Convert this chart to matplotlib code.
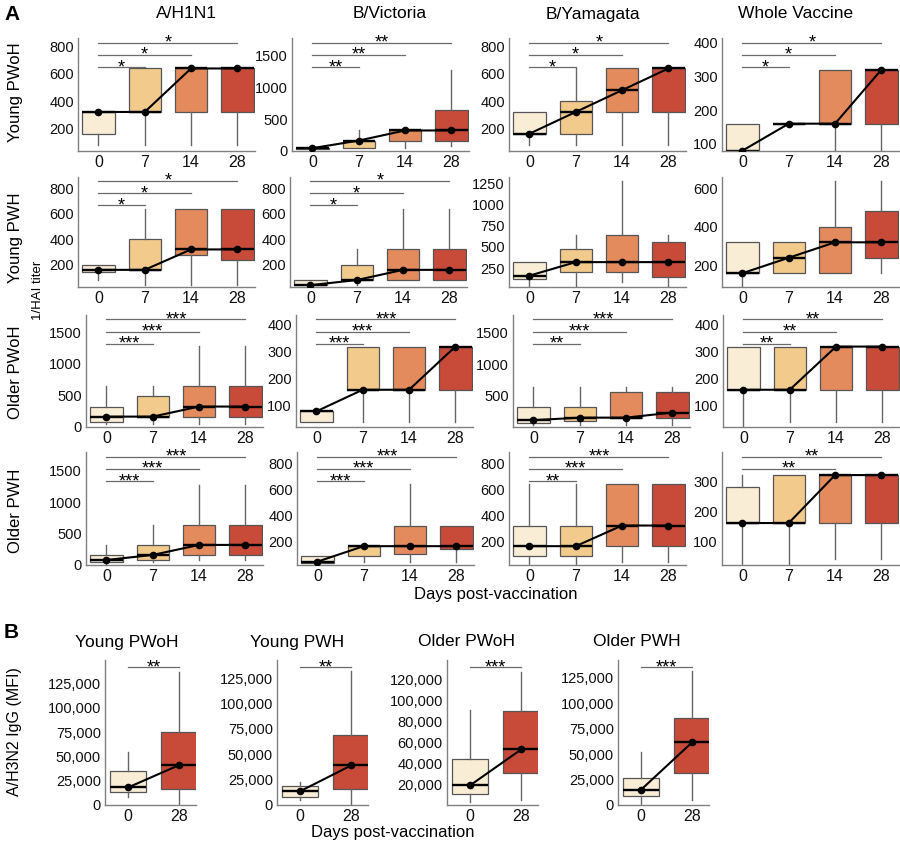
import matplotlib.pyplot as plt
from matplotlib.ticker import FuncFormatter
import numpy as np

plt.rcParams['font.family'] = ['Liberation Sans', 'DejaVu Sans']

days = ['0', '7', '14', '28']
day_colors = ['#FAEDD6', '#F2CA8C', '#E38B5C', '#C84A39']
strains = ['A/H1N1', 'B/Victoria', 'B/Yamagata', 'Whole Vaccine']
groups = ['Young PWoH', 'Young PWH', 'Older PWoH', 'Older PWH']

# box stats per day: [low whisker, q1, median, q3, high whisker]
h1n1_young_pwoh = [[80, 160, 320, 320, 320], [80, 320, 320, 640, 640], [80, 320, 640, 640, 640], [80, 320, 640, 640, 640]]
vic_young_pwoh = [[10, 20, 40, 50, 60], [40, 40, 160, 160, 320], [40, 160, 320, 320, 320], [80, 160, 320, 640, 1280]]
yam_young_pwoh = [[80, 160, 160, 320, 320], [80, 160, 320, 400, 640], [80, 320, 480, 640, 640], [80, 320, 640, 640, 640]]
whole_young_pwoh = [[80, 80, 80, 160, 160], [160, 160, 160, 160, 160], [80, 160, 160, 320, 320], [80, 160, 320, 320, 320]]

h1n1_young_pwh = [[80, 140, 160, 200, 200], [40, 160, 160, 400, 640], [40, 280, 320, 640, 640], [40, 240, 320, 640, 640]]
vic_young_pwh = [[40, 40, 40, 80, 80], [40, 80, 80, 200, 320], [80, 80, 160, 320, 640], [80, 80, 160, 320, 640]]
yam_young_pwh = [[40, 120, 160, 320, 320], [40, 200, 320, 480, 640], [80, 200, 320, 640, 1280], [40, 140, 320, 560, 640]]
whole_young_pwh = [[80, 160, 160, 320, 320], [160, 160, 240, 320, 320], [160, 160, 320, 400, 640], [160, 240, 320, 480, 640]]

h1n1_older_pwoh = [[40, 80, 160, 320, 640], [40, 160, 160, 480, 640], [40, 160, 320, 640, 1280], [40, 160, 320, 640, 1280]]
vic_older_pwoh = [[40, 40, 80, 80, 80], [40, 160, 160, 320, 320], [40, 160, 160, 320, 320], [40, 160, 320, 320, 320]]
yam_older_pwoh = [[40, 80, 120, 320, 640], [40, 100, 160, 320, 640], [40, 160, 160, 560, 640], [40, 160, 240, 560, 640]]
whole_older_pwoh = [[20, 160, 160, 320, 320], [40, 160, 160, 320, 320], [40, 160, 320, 320, 320], [40, 160, 320, 320, 320]]

h1n1_older_pwh = [[20, 40, 80, 160, 320], [40, 80, 160, 320, 640], [80, 160, 320, 640, 1280], [80, 160, 320, 640, 1280]]
vic_older_pwh = [[20, 30, 40, 80, 80], [40, 80, 160, 160, 160], [40, 100, 160, 320, 640], [40, 140, 160, 320, 320]]
yam_older_pwh = [[20, 80, 160, 320, 640], [20, 80, 160, 320, 640], [40, 160, 320, 640, 640], [40, 160, 320, 640, 640]]
whole_older_pwh = [[20, 160, 160, 280, 320], [20, 160, 160, 320, 320], [40, 160, 320, 320, 320], [40, 160, 320, 320, 320]]

hai_stats = [
    [h1n1_young_pwoh, vic_young_pwoh, yam_young_pwoh, whole_young_pwoh],
    [h1n1_young_pwh, vic_young_pwh, yam_young_pwh, whole_young_pwh],
    [h1n1_older_pwoh, vic_older_pwoh, yam_older_pwoh, whole_older_pwoh],
    [h1n1_older_pwh, vic_older_pwh, yam_older_pwh, whole_older_pwh],
]

# significance vs day 0 for days 7, 14, 28
hai_sig = [
    [['*', '*', '*'], ['**', '**', '**'], ['*', '*', '*'], ['*', '*', '*']],
    [['*', '*', '*'], ['*', '*', '*'], ['', '', ''], ['', '', '']],
    [['***', '***', '***'], ['***', '***', '***'], ['**', '***', '***'], ['**', '**', '**']],
    [['***', '***', '***'], ['***', '***', '***'], ['**', '***', '***'], ['', '**', '**']],
]

hai_ticks = [
    [[200, 400, 600, 800], [0, 500, 1000, 1500], [200, 400, 600, 800], [100, 200, 300, 400]],
    [[200, 400, 600, 800], [200, 400, 600, 800], [250, 500, 750, 1000, 1250], [200, 400, 600]],
    [[0, 500, 1000, 1500], [100, 200, 300, 400], [500, 1000, 1500], [100, 200, 300, 400]],
    [[0, 500, 1000, 1500], [200, 400, 600, 800], [200, 400, 600, 800], [100, 200, 300]],
]
hai_ylim = [
    [(33, 864), (-5, 1784), (33, 864), (79, 414)],
    [(28, 890), (28, 890), (30, 1328), (90, 660)],
    [(-5, 1775), (22, 437), (13, 1772), (22, 437)],
    [(0, 1800), (14, 890), (14, 890), (20, 397)],
]

# panel B: A/H3N2 IgG (MFI), days 0 and 28
igg_days = ['0', '28']
igg_colors = ['#FAEDD6', '#C84A39']
igg_young_pwoh = [[7900, 13000, 18000, 35000, 54700], [0, 16000, 41000, 74700, 137000]]
igg_young_pwh = [[5000, 7600, 13500, 19000, 22400], [0, 15500, 39000, 69000, 132000]]
igg_older_pwoh = [[2500, 10500, 18700, 44000, 90800], [5000, 31000, 53000, 89800, 127000]]
igg_older_pwh = [[0, 8800, 15000, 26200, 51900], [5000, 31800, 61700, 85600, 131600]]
igg_stats = [igg_young_pwoh, igg_young_pwh, igg_older_pwoh, igg_older_pwh]
igg_sig = ['**', '**', '***', '***']
igg_ticks = [[0, 25000, 50000, 75000, 100000, 125000], [0, 25000, 50000, 75000, 100000, 125000],
             [20000, 40000, 60000, 80000, 100000, 120000], [0, 25000, 50000, 75000, 100000, 125000]]
igg_ylim = [(0, 149000), (0, 143000), (0, 138400), (0, 142700)]

W, H = 900, 844
fig = plt.figure(figsize=(W / 100, H / 100), dpi=100)


def add_ax(left, top, width, bottom):
    return fig.add_axes([left / W, 1 - bottom / H, width / W, (bottom - top) / H])


def ftext(x, y, s, **kw):
    fig.text(x / W, 1 - y / H, s, **kw)


def draw_boxes(ax, stats, colors):
    bstats = [dict(whislo=s[0], q1=s[1], med=s[2], q3=s[3], whishi=s[4], fliers=[]) for s in stats]
    pos = np.arange(len(stats))
    parts = ax.bxp(bstats, positions=pos, widths=0.7, patch_artist=True,
                   showfliers=False, showcaps=False,
                   boxprops=dict(edgecolor='#555555', linewidth=0.9),
                   whiskerprops=dict(color='#666666', linewidth=1.0),
                   medianprops=dict(color='black', linewidth=1.7))
    for patch, c in zip(parts['boxes'], colors):
        patch.set_facecolor(c)
    ax.plot(pos, [s[2] for s in stats], color='black', lw=1.5, marker='o', ms=4.5, zorder=5)


def style(ax):
    for s in ['top', 'right']:
        ax.spines[s].set_visible(False)
    for s in ['left', 'bottom']:
        ax.spines[s].set_color('#808080')
        ax.spines[s].set_linewidth(1.0)
    ax.tick_params(length=0, labelsize=10.5, pad=3, labelcolor='#111111')


def sig_bar(ax, x_end, y, label):
    tr = ax.get_xaxis_transform()
    ax.plot([0, x_end], [y, y], color='#6a6a6a', lw=0.9, transform=tr, clip_on=False)
    ax.annotate(label, xy=(x_end / 2, y), xycoords=tr, xytext=(0, -3.5), textcoords='offset points',
                ha='center', va='baseline', fontsize=13, annotation_clip=False)


# ---- panel A ----
row_tb = [(38, 151), (176.7, 286.7), (315, 427), (452, 565)]
col_left = [[78, 292, 509, 722], [78, 290, 509, 722], [86, 296, 513, 723], [86, 297, 509, 722]]
sig_y = [0.74, 0.85, 0.96]

for r in range(4):
    for c in range(4):
        top, bottom = row_tb[r]
        ax = add_ax(col_left[r][c], top, 177, bottom)
        draw_boxes(ax, hai_stats[r][c], day_colors)
        style(ax)
        ax.set_xlim(-0.44, 3.38)
        ax.set_ylim(*hai_ylim[r][c])
        ax.set_yticks(hai_ticks[r][c])
        ax.set_xticks(range(4))
        ax.set_xticklabels(days, fontsize=11.5)
        for k, lab in enumerate(hai_sig[r][c]):
            if lab:
                sig_bar(ax, k + 1, sig_y[k], lab)

for x, name in zip([186, 390, 593, 796], strains):
    ftext(x, 14, name, ha='center', va='center', fontsize=12.5)
for y, name in zip([92, 238, 372, 511], groups):
    ftext(16, y, name, ha='center', va='center', rotation=90, fontsize=12)
ftext(38, 290, '1/HAI titer', ha='center', va='center', rotation=90, fontsize=9.5)
ftext(496, 594, 'Days post-vaccination', ha='center', va='center', fontsize=12)
ftext(4, 15, 'A', ha='left', va='center', fontsize=15, fontweight='bold')

# ---- panel B ----
b_left = [105, 277, 447, 618]
for i in range(4):
    ax = add_ax(b_left[i], 660, 91, 805)
    draw_boxes(ax, igg_stats[i], igg_colors)
    style(ax)
    ax.set_xlim(-0.45, 1.33)
    ax.set_ylim(*igg_ylim[i])
    ax.set_yticks(igg_ticks[i])
    ax.yaxis.set_major_formatter(FuncFormatter(lambda v, _: f'{int(v):,}'))
    ax.set_xticks(range(2))
    ax.set_xticklabels(igg_days, fontsize=11.5)
    sig_bar(ax, 1, 0.95, igg_sig[i])

for x, name in zip([127, 297, 467, 637], groups):
    ftext(x, 642, name, ha='center', va='center', fontsize=12.5)
ftext(15, 732, 'A/H3N2 IgG (MFI)', ha='center', va='center', rotation=90, fontsize=11.5)
ftext(393, 833, 'Days post-vaccination', ha='center', va='center', fontsize=12)
ftext(4, 633, 'B', ha='left', va='center', fontsize=15, fontweight='bold')

fig.savefig('out.png', dpi=100)
